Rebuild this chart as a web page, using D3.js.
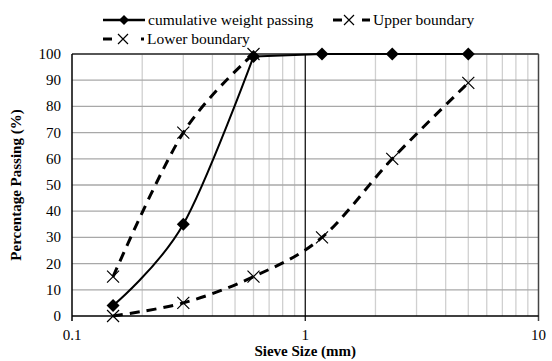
<!DOCTYPE html>
<html>
<head>
<meta charset="utf-8">
<script src="https://cdn.jsdelivr.net/npm/d3@7"></script>
<style>
  body { margin: 0; background: #fff; }
  text { font-family: "Liberation Serif", "Times New Roman", "DejaVu Serif", serif; }
</style>
</head>
<body>
<svg id="chart" width="552" height="361"></svg>
<script>
// sieve sizes (mm) and percentage passing
var sieveSizes = [0.15, 0.3, 0.6, 1.18, 2.36, 5];
var cumulativePassing = [4, 35, 99, 100, 100, 100];
var upperSizes = [0.15, 0.3, 0.6];
var upperValues = [15, 70, 100];
var lowerSizes = [0.15, 0.3, 0.6, 1.18, 2.36, 5];
var lowerValues = [0, 5, 15, 30, 60, 89];
var yTicks = [0, 10, 20, 30, 40, 50, 60, 70, 80, 90, 100];
var xTicks = [0.1, 1, 10];

var FONT = "'Liberation Serif', 'Times New Roman', 'DejaVu Serif', serif";
var svg = d3.select("#chart").attr("font-family", FONT);
var plot = { left: 72, right: 538.5, top: 54, bottom: 316 };

var x = d3.scaleLog().domain([0.1, 10]).range([plot.left, plot.right]);
var y = d3.scaleLinear().domain([0, 100]).range([plot.bottom, plot.top]);

// minor vertical grid
var minor = [];
[0.1, 1].forEach(function(d) {
  for (var i = 2; i <= 9; i++) minor.push(d * i);
});
svg.append("g").selectAll("line").data(minor).enter().append("line")
  .attr("x1", d => x(d)).attr("x2", d => x(d))
  .attr("y1", plot.top).attr("y2", plot.bottom)
  .attr("stroke", "#d0d0d0").attr("stroke-width", 1.3);

// horizontal grid
svg.append("g").selectAll("line").data(yTicks.slice(1)).enter().append("line")
  .attr("x1", plot.left).attr("x2", plot.right)
  .attr("y1", d => y(d)).attr("y2", d => y(d))
  .attr("stroke", "#a8a8a8").attr("stroke-width", 1.3);

// major vertical line at 1
svg.append("line")
  .attr("x1", x(1)).attr("x2", x(1))
  .attr("y1", plot.top).attr("y2", plot.bottom + 5)
  .attr("stroke", "#000").attr("stroke-width", 1.2);

// frame
svg.append("line").attr("x1", plot.left).attr("x2", plot.right)
  .attr("y1", plot.top).attr("y2", plot.top)
  .attr("stroke", "#333").attr("stroke-width", 1.3);
svg.append("line").attr("x1", plot.right).attr("x2", plot.right)
  .attr("y1", plot.top).attr("y2", plot.bottom + 5)
  .attr("stroke", "#444").attr("stroke-width", 1.5);
svg.append("line").attr("x1", plot.left).attr("x2", plot.left)
  .attr("y1", plot.top).attr("y2", plot.bottom + 5)
  .attr("stroke", "#000").attr("stroke-width", 1.5);
svg.append("line").attr("x1", plot.left).attr("x2", plot.right)
  .attr("y1", plot.bottom).attr("y2", plot.bottom)
  .attr("stroke", "#000").attr("stroke-width", 1.5);

// tick labels
svg.append("g").selectAll("text").data(yTicks).enter().append("text")
  .attr("x", plot.left - 11).attr("y", d => y(d) + 5)
  .attr("text-anchor", "end").attr("font-size", 15)
  .text(d => d);
svg.append("g").selectAll("text").data(xTicks).enter().append("text")
  .attr("x", d => x(d)).attr("y", plot.bottom + 24)
  .attr("text-anchor", "middle").attr("font-size", 15)
  .text(d => d);

// axis titles
svg.append("text")
  .attr("x", (plot.left + plot.right) / 2).attr("y", 356)
  .attr("text-anchor", "middle").attr("font-size", 15).attr("font-weight", "bold")
  .text("Sieve Size (mm)");
svg.append("text")
  .attr("transform", "translate(21," + ((plot.top + plot.bottom) / 2) + ") rotate(-90)")
  .attr("text-anchor", "middle").attr("font-size", 15).attr("font-weight", "bold")
  .text("Percentage Passing (%)");

var smooth = d3.line()
  .x(d => x(d[0])).y(d => y(d[1]))
  .curve(d3.curveCatmullRom.alpha(0));
var straight = d3.line()
  .x(d => x(d[0])).y(d => y(d[1]));

function drawCross(g, cx, cy, s) {
  g.append("path")
    .attr("d", "M" + (cx - s) + "," + (cy - s) + "L" + (cx + s) + "," + (cy + s) +
      "M" + (cx - s) + "," + (cy + s) + "L" + (cx + s) + "," + (cy - s))
    .attr("stroke", "#000").attr("stroke-width", 1.2).attr("fill", "none");
}
function drawDiamond(g, cx, cy, s) {
  g.append("path")
    .attr("d", "M" + cx + "," + (cy - s) + "L" + (cx + s) + "," + cy +
      "L" + cx + "," + (cy + s) + "L" + (cx - s) + "," + cy + "Z")
    .attr("fill", "#000");
}

var series = svg.append("g");

var lowerData = d3.zip(lowerSizes, lowerValues);
series.append("path").datum(lowerData)
  .attr("d", smooth).attr("fill", "none")
  .attr("stroke", "#000").attr("stroke-width", 3)
  .attr("stroke-dasharray", "10,7");
lowerData.forEach(d => drawCross(series, x(d[0]), y(d[1]), 6));

var upperData = d3.zip(upperSizes, upperValues);
series.append("path").datum(upperData)
  .attr("d", smooth).attr("fill", "none")
  .attr("stroke", "#000").attr("stroke-width", 3)
  .attr("stroke-dasharray", "10,7");
upperData.forEach(d => drawCross(series, x(d[0]), y(d[1]), 6));

// cumulative curve: smoothed rise, then the plateau at 100
var cumData = d3.zip(sieveSizes, cumulativePassing);
var peak = cumulativePassing.indexOf(d3.max(cumulativePassing)) - 1;
series.append("path").datum(cumData.slice(0, peak + 1))
  .attr("d", smooth).attr("fill", "none")
  .attr("stroke", "#000").attr("stroke-width", 2);
series.append("path").datum(cumData.slice(peak))
  .attr("d", straight).attr("fill", "none")
  .attr("stroke", "#000").attr("stroke-width", 2);
cumData.forEach(d => drawDiamond(series, x(d[0]), y(d[1]), 6.5));

// legend
var legend = svg.append("g");
function legendEntry(lx, ly, w, label, type) {
  if (type === "solid") {
    legend.append("line")
      .attr("x1", lx).attr("x2", lx + w).attr("y1", ly).attr("y2", ly)
      .attr("stroke", "#000").attr("stroke-width", 2.5);
    drawDiamond(legend, lx + w / 2, ly, 5);
  } else {
    var tail = type === "dot" ? 3 : 8;
    legend.append("line").attr("x1", lx).attr("x2", lx + 9)
      .attr("y1", ly).attr("y2", ly).attr("stroke", "#000").attr("stroke-width", 3);
    legend.append("line").attr("x1", lx + w - tail).attr("x2", lx + w)
      .attr("y1", ly).attr("y2", ly).attr("stroke", "#000").attr("stroke-width", 3);
    drawCross(legend, lx + (type === "dot" ? 20 : 16), ly, 5);
  }
  legend.append("text").attr("x", lx + w + 3).attr("y", ly + 5)
    .attr("font-size", 15.5).text(label);
}
legendEntry(103, 20, 42, "cumulative weight passing", "solid");
legendEntry(333, 20, 37, "Upper boundary", "dash");
legendEntry(103, 39, 41, "Lower boundary", "dot");
</script>
</body>
</html>
